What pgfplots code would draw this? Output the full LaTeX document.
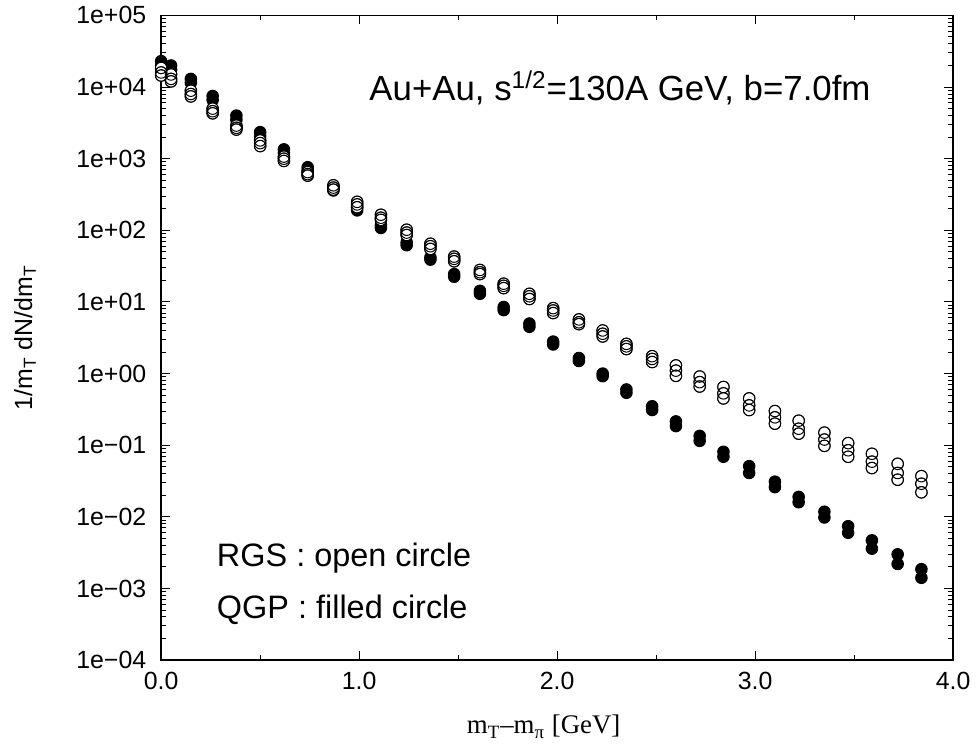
\documentclass[border=0pt]{standalone}
\usepackage{pgfplots}
\pgfplotsset{compat=1.18}
\usepackage{pgfplotstable}
\usepackage{fontspec}
\setmainfont{Liberation Sans}
\newfontfamily\serif{Liberation Serif}

% x, open circles (RGS) o1..o3, filled circles (QGP) f1..f2
\pgfplotstableread{
x    o1     o2     o3     f1      f2
0.00 1.85e4 1.6e4  1.45e4 2.3e4   2.0e4
0.05 1.5e4  1.3e4  1.2e4  2.0e4   1.75e4
0.15 8.9e3  8.0e3  7.4e3  1.3e4   1.15e4
0.26 5.0e3  4.6e3  4.3e3  7.5e3   6.6e3
0.38 2.9e3  2.7e3  2.55e3 4.0e3   3.5e3
0.50 1.8e3  1.65e3 1.5e3  2.35e3  2.05e3
0.62 1.07e3 1.0e3  930    1.35e3  1.2e3
0.74 650    610    580    760     690
0.87 425    395    370    400     360
0.99 250    230    210    210     190
1.11 165    150    140    118     108
1.24 102    93     86     68      62
1.36 65     60     55     42      39
1.48 43     40     37     24.5    22.5
1.61 28     26     24.5   14.3    13.0
1.73 18     16.8   15.6   8.5     7.7
1.86 13     12     11     5.0     4.5
1.98 8.2    7.6    7.0    2.8     2.55
2.11 5.7    5.2    4.9    1.65    1.5
2.23 4.0    3.6    3.3    1.0     0.92
2.35 2.6    2.4    2.2    0.6     0.54
2.48 1.75   1.6    1.45   0.35    0.31
2.60 1.3    1.1    0.93   0.215   0.185
2.72 0.91   0.76   0.66   0.135   0.115
2.84 0.65   0.53   0.45   0.081   0.069
2.97 0.45   0.36   0.31   0.051   0.041
3.10 0.30   0.245  0.20   0.031   0.026
3.22 0.22   0.17   0.145  0.019   0.016
3.35 0.15   0.12   0.098  0.0118  0.0098
3.47 0.107  0.085  0.069  0.0074  0.006
3.59 0.076  0.059  0.048  0.0047  0.0036
3.72 0.055  0.041  0.033  0.003   0.0022
3.84 0.037  0.029  0.022  0.00186 0.00141
}\data

\begin{document}
\begin{tikzpicture}
\begin{axis}[
  name=ax,
  scale only axis,
  width=398pt, height=324pt,
  xmin=0, xmax=4,
  ymode=log, ymin=1e-4, ymax=1e5,
  xtick={0,1,2,3,4},
  xticklabels={0.0,1.0,2.0,3.0,4.0},
  minor xtick={0.5,1.5,2.5,3.5},
  ytick={1e-4,1e-3,1e-2,1e-1,1,1e1,1e2,1e3,1e4,1e5},
  yticklabels={1e−04,1e−03,1e−02,1e−01,1e+00,1e+01,1e+02,1e+03,1e+04,1e+05},
  tick align=inside,
  major tick length=4.5pt,
  minor tick length=2.5pt,
  tick style={black, line width=0.5pt},
  axis line style={line width=0.7pt},
  tick label style={font=\fontsize{12.5}{15}\selectfont},
  xticklabel style={yshift=-2.5pt},
  yticklabel style={xshift=-4pt},
  xlabel={\serif m\textsubscript{T}–m\textsubscript{π} [GeV]},
  xlabel style={font=\fontsize{13.5}{15}\selectfont, at={(ticklabel cs:0.483)}, anchor=near ticklabel, yshift=-6pt},
  ylabel={1/m\textsubscript{T} dN/dm\textsubscript{T}},
  ylabel style={font=\fontsize{12.5}{14}\selectfont, at={(axis description cs:-0.172,0.5)}, anchor=center},
  clip=false,
]
\addplot[only marks, mark=*, mark size=2.9pt, mark options={black, line width=0.5pt}] table[x=x, y=f1] {\data};
\addplot[only marks, mark=*, mark size=2.9pt, mark options={black, line width=0.5pt}] table[x=x, y=f2] {\data};
% white interiors first, then the rings
\addplot[only marks, mark=*, mark size=2.9pt, mark options={draw=none, fill=white}] table[x=x, y=o1] {\data};
\addplot[only marks, mark=*, mark size=2.9pt, mark options={draw=none, fill=white}] table[x=x, y=o2] {\data};
\addplot[only marks, mark=*, mark size=2.9pt, mark options={draw=none, fill=white}] table[x=x, y=o3] {\data};
\addplot[only marks, mark=o, mark size=2.9pt, mark options={black, line width=0.5pt}] table[x=x, y=o1] {\data};
\addplot[only marks, mark=o, mark size=2.9pt, mark options={black, line width=0.5pt}] table[x=x, y=o2] {\data};
\addplot[only marks, mark=o, mark size=2.9pt, mark options={black, line width=0.5pt}] table[x=x, y=o3] {\data};

\node[anchor=base west, font=\fontsize{17.5}{20}\selectfont, inner sep=0pt]
  at (axis cs:1.05,6440) {Au+Au, s\textsuperscript{1/2}=130A GeV, b=7.0fm};
\node[anchor=base west, font=\fontsize{16.3}{19}\selectfont, inner sep=0pt]
  at (axis cs:0.28,2.06e-3) {RGS : open circle};
\node[anchor=base west, font=\fontsize{16.3}{19}\selectfont, inner sep=0pt]
  at (axis cs:0.28,3.8e-4) {QGP : filled circle};
\end{axis}
\path (ax.south west) ++(-81pt,-42pt);
\path (ax.north east) ++(9.5pt,6pt);
\end{tikzpicture}
\end{document}
